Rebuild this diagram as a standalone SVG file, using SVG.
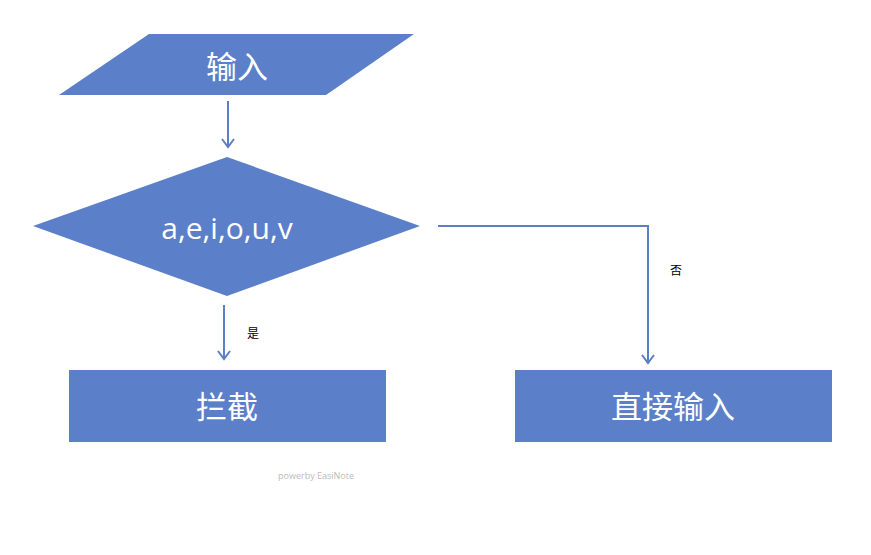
<svg xmlns="http://www.w3.org/2000/svg" width="871" height="555" viewBox="0 0 871 555">
<style>
.shape{fill:#5b80c9;}
.lbl{fill:#ffffff;font-family:"Noto Sans CJK SC","Open Sans",sans-serif;font-size:31px;text-anchor:middle;}
.lat{fill:#ffffff;font-family:"Open Sans","Noto Sans",sans-serif;font-size:30px;text-anchor:middle;}
.conn{fill:none;stroke:#5b7fc7;stroke-width:2;}
.small{fill:#000;font-family:"Noto Sans CJK SC",sans-serif;font-size:12px;text-anchor:middle;}
</style>
<defs>
<marker id="arr" markerWidth="14" markerHeight="14" refX="12" refY="7" orient="auto" markerUnits="userSpaceOnUse" viewBox="0 0 14 14">
<polyline points="4,1 12,7 4,13" fill="none" stroke="#5b7fc7" stroke-width="2"/>
</marker>
</defs>
<rect width="871" height="555" fill="#ffffff"/>
<g id="input">
<polygon class="shape" points="149,34 414,34 326,95 59,95"/>
<text class="lbl" x="237" y="78">输入</text>
</g>
<g id="decision">
<polygon class="shape" points="227,157 420,226 227,296 33,226"/>
<text class="lat" x="227" y="239">a,e,i,o,u,v</text>
</g>
<g id="block">
<rect class="shape" x="69" y="370" width="317" height="72"/>
<text class="lbl" x="227" y="418">拦截</text>
</g>
<g id="direct">
<rect class="shape" x="515" y="370" width="317" height="72"/>
<text class="lbl" x="673" y="418">直接输入</text>
</g>
<g id="connectors">
<line class="conn" x1="228" y1="101" x2="228" y2="147" marker-end="url(#arr)"/>
<line class="conn" x1="224" y1="305" x2="224" y2="359" marker-end="url(#arr)"/>
<polyline class="conn" points="438,226 648,226 648,363" marker-end="url(#arr)"/>
<text class="small" x="253" y="338">是</text>
<text class="small" x="676" y="275">否</text>
</g>
<text x="316" y="479" font-family="'Open Sans',sans-serif" font-size="9px" fill="#bbbbbb" text-anchor="middle">powerby EasiNote</text>
</svg>
